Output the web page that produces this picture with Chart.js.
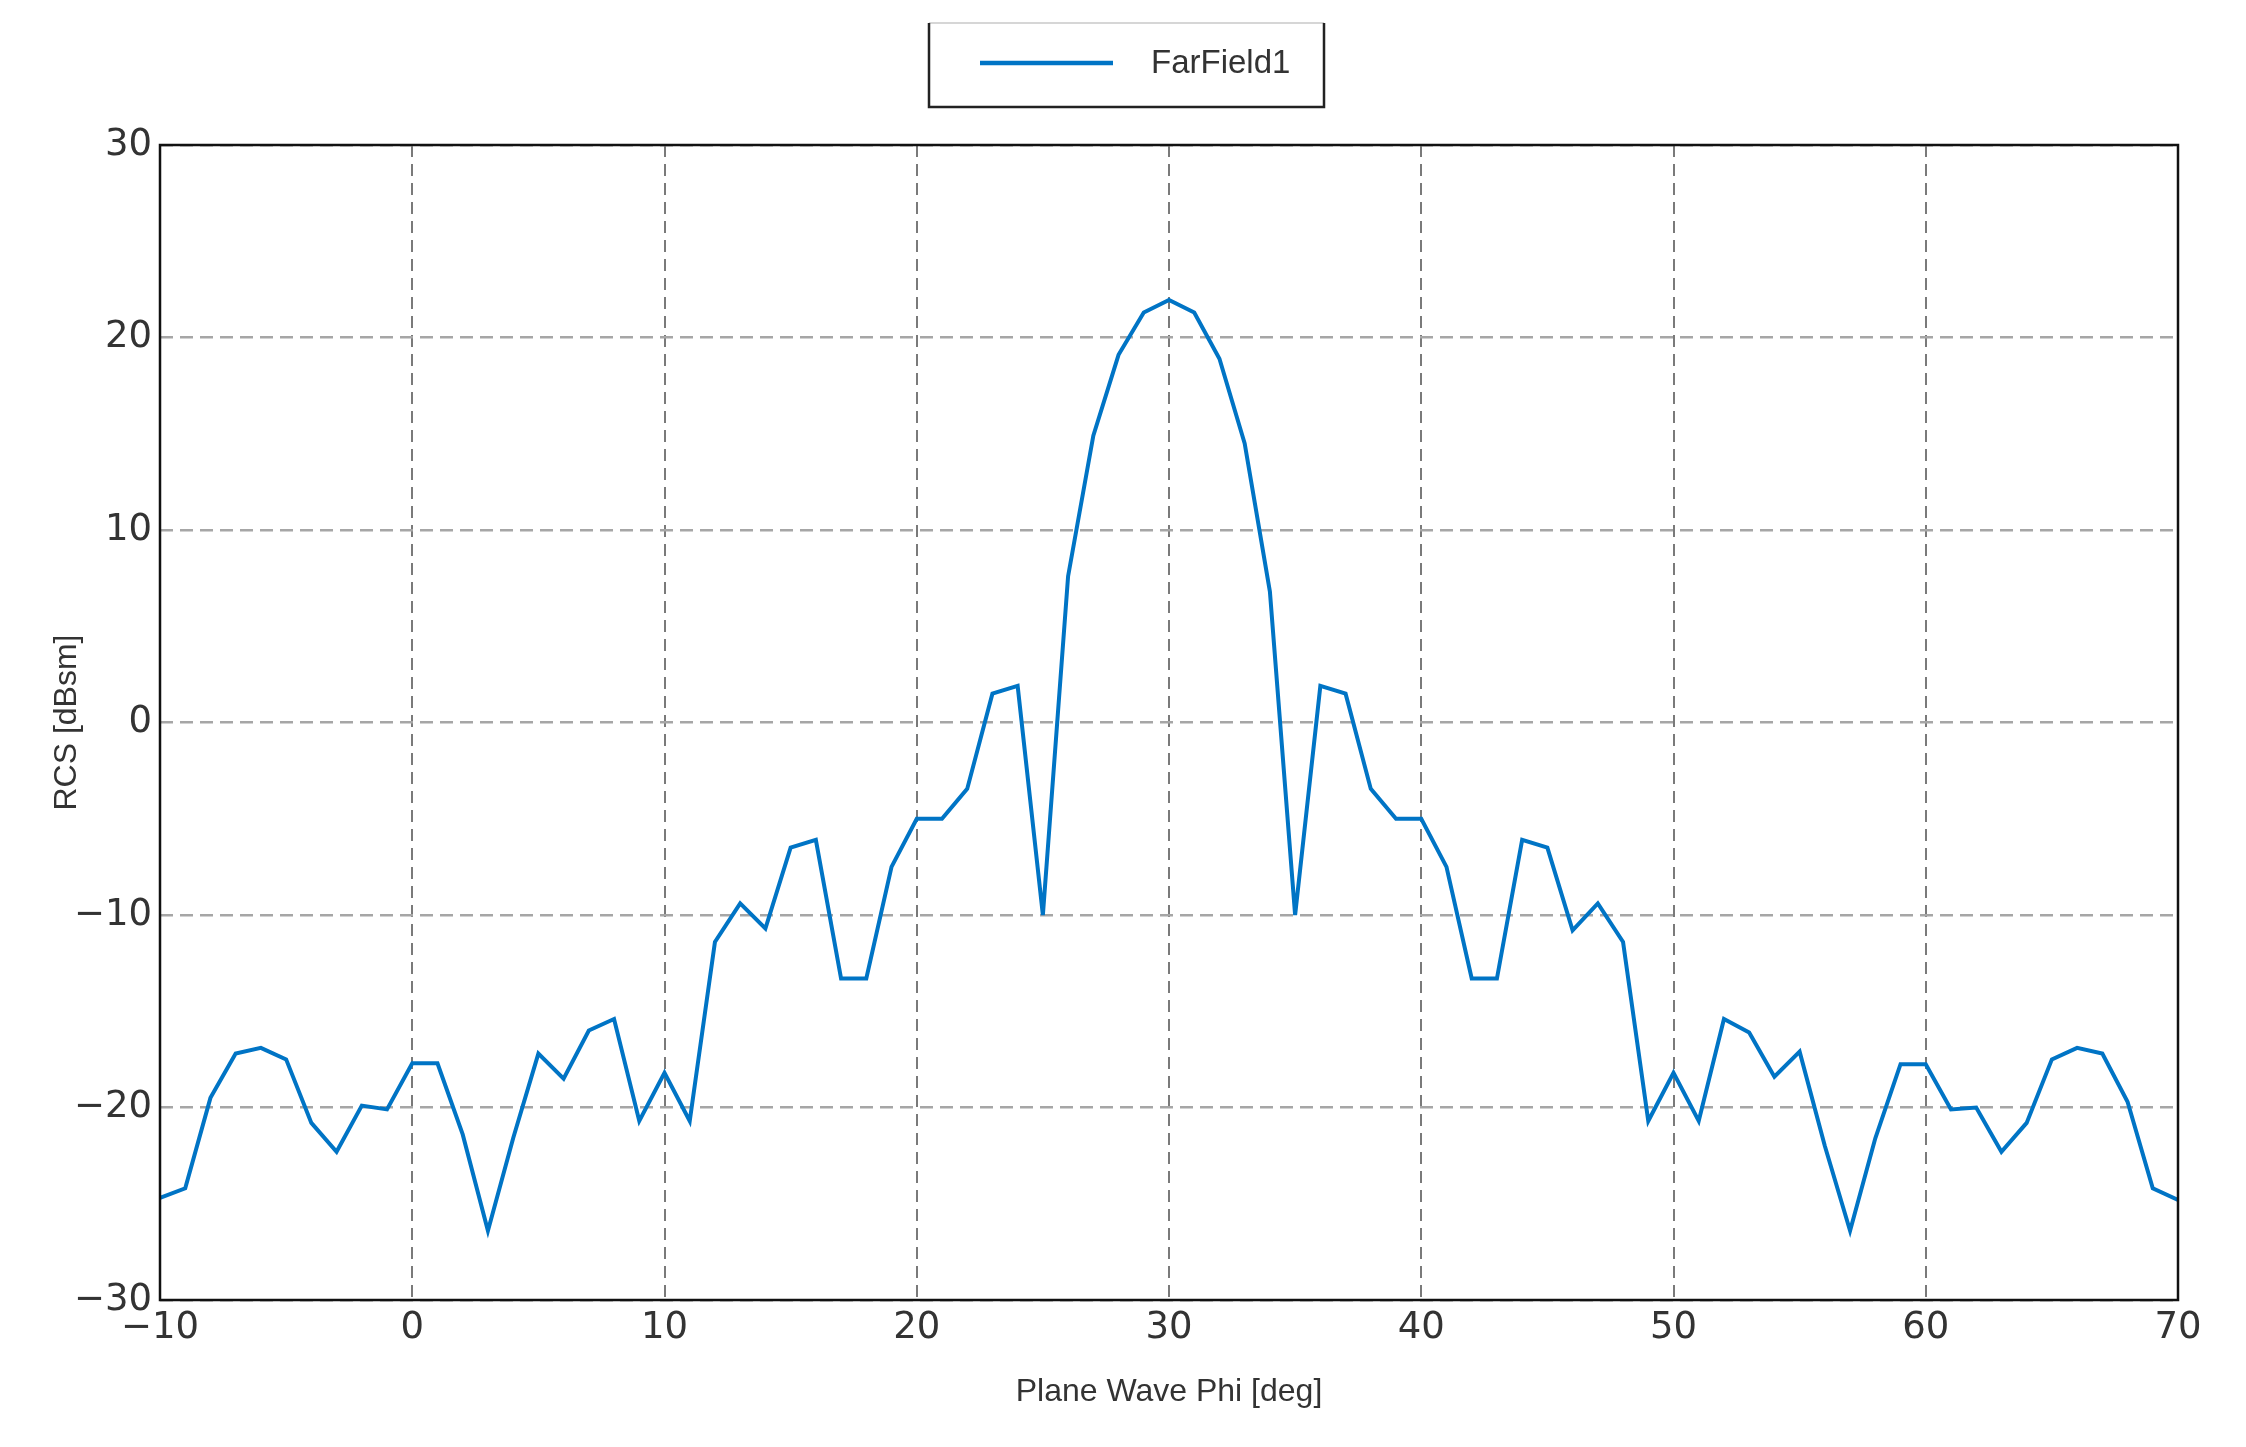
<!DOCTYPE html>
<html>
<head>
<meta charset="utf-8">
<title>RCS vs Plane Wave Phi</title>
<script src="https://cdn.jsdelivr.net/npm/chart.js@4.4.1/dist/chart.umd.min.js"></script>
<style>
    html, body { margin: 0; padding: 0; background: #fff; }
    #wrap { width: 2246px; height: 1447px; }
</style>
</head>
<body>
<div id="wrap">
    <canvas id="rcsChart" width="2246" height="1447"></canvas>
</div>
<script>
// Plane wave phi angle [deg]
const phiDeg = [
    -10, -9, -8, -7, -6, -5, -4, -3, -2, -1,
    0, 1, 2, 3, 4, 5, 6, 7, 8, 9,
    10, 11, 12, 13, 14, 15, 16, 17, 18, 19,
    20, 21, 22, 23, 24, 25, 26, 27, 28, 29,
    30, 31, 32, 33, 34, 35, 36, 37, 38, 39,
    40, 41, 42, 43, 44, 45, 46, 47, 48, 49,
    50, 51, 52, 53, 54, 55, 56, 57, 58, 59,
    60, 61, 62, 63, 64, 65, 66, 67, 68, 69,
    70
];

// FarField1 RCS [dBsm]
const farField1 = [
    -24.7, -24.2, -19.5, -17.2, -16.9, -17.5, -20.8, -22.3, -19.9, -20.1,
    -17.7, -17.7, -21.4, -26.4, -21.6, -17.2, -18.5, -16.0, -15.4, -20.7,
    -18.2, -20.7, -11.4, -9.4, -10.7, -6.5, -6.1, -13.3, -13.3, -7.5,
    -5.0, -5.0, -3.45, 1.5, 1.9, -10.0, 7.6, 14.9, 19.1, 21.3,
    21.95, 21.3, 18.9, 14.5, 6.8, -10.0, 1.9, 1.5, -3.45, -5.0,
    -5.0, -7.5, -13.3, -13.3, -6.1, -6.5, -10.8, -9.4, -11.4, -20.7,
    -18.2, -20.7, -15.4, -16.1, -18.4, -17.1, -22.0, -26.4, -21.6, -17.75,
    -17.75, -20.1, -20.0, -22.3, -20.8, -17.5, -16.9, -17.2, -19.7, -24.2,
    -24.8
];

const xTicks = [-10, 0, 10, 20, 30, 40, 50, 60, 70];
const yTicks = [-30, -20, -10, 0, 10, 20, 30];

const lineColor = "#0074c5";
const textColor = "#333333";

function fmtTick(v) {
    return v < 0 ? "\u2212" + Math.abs(v) : String(v);
}

// black frame round the plot area
const framePlugin = {
    id: "frame",
    afterDatasetsDraw(chart) {
        const { ctx, chartArea: a } = chart;
        ctx.save();
        ctx.strokeStyle = "#111";
        ctx.lineWidth = 2.5;
        ctx.strokeRect(a.left, a.top, a.right - a.left, a.bottom - a.top);
        ctx.restore();
    }
};

// boxed legend like the original tool draws it
const boxLegendPlugin = {
    id: "boxLegend",
    afterDraw(chart) {
        const ctx = chart.ctx;
        const ds = chart.data.datasets[0];
        const x0 = 929, y0 = 23, x1 = 1324, y1 = 107;
        ctx.save();
        ctx.fillStyle = "#fff";
        ctx.fillRect(x0, y0, x1 - x0, y1 - y0);
        ctx.strokeStyle = "#c8c8c8";
        ctx.lineWidth = 1.5;
        ctx.beginPath();
        ctx.moveTo(x0, y0);
        ctx.lineTo(x1, y0);
        ctx.stroke();
        ctx.strokeStyle = "#222";
        ctx.lineWidth = 2.5;
        ctx.beginPath();
        ctx.moveTo(x0, y0);
        ctx.lineTo(x0, y1);
        ctx.lineTo(x1, y1);
        ctx.lineTo(x1, y0);
        ctx.stroke();

        ctx.strokeStyle = ds.borderColor;
        ctx.lineWidth = 4.5;
        ctx.beginPath();
        ctx.moveTo(980, 63);
        ctx.lineTo(1113, 63);
        ctx.stroke();

        ctx.fillStyle = textColor;
        ctx.font = "33px 'Liberation Sans', Arial, sans-serif";
        ctx.textBaseline = "middle";
        ctx.textAlign = "left";
        ctx.fillText(ds.label, 1151, 64);
        ctx.restore();
    }
};

new Chart(document.getElementById("rcsChart"), {
    type: "line",
    data: {
        datasets: [{
            label: "FarField1",
            data: phiDeg.map((p, i) => ({ x: p, y: farField1[i] })),
            borderColor: lineColor,
            backgroundColor: lineColor,
            borderWidth: 4,
            pointRadius: 0,
            tension: 0,
            fill: false
        }]
    },
    options: {
        responsive: false,
        animation: false,
        layout: {
            padding: { top: 145, right: 68, left: 0, bottom: 0 }
        },
        plugins: {
            legend: { display: false },
            tooltip: { enabled: false }
        },
        scales: {
            x: {
                type: "linear",
                min: -10,
                max: 70,
                afterBuildTicks: scale => {
                    scale.ticks = xTicks.map(v => ({ value: v }));
                },
                afterFit: scale => { scale.height = 147; },
                // in v4 border.dash is what dashes the grid lines
                border: { display: false, dash: [12, 7] },
                grid: {
                    color: "#7a7a7a",
                    lineWidth: 2,
                    drawTicks: false
                },
                ticks: {
                    padding: 6,
                    maxRotation: 0,
                    color: textColor,
                    font: { family: "'DejaVu Sans', sans-serif", size: 37 },
                    callback: v => fmtTick(v)
                },
                title: {
                    display: true,
                    text: "Plane Wave Phi [deg]",
                    color: textColor,
                    font: { family: "'Liberation Sans', Arial, sans-serif", size: 32 },
                    padding: { top: 0, bottom: 36 }
                }
            },
            y: {
                type: "linear",
                min: -30,
                max: 30,
                afterBuildTicks: scale => {
                    scale.ticks = yTicks.map(v => ({ value: v }));
                },
                afterFit: scale => { scale.width = 160; },
                border: { display: false, dash: [13, 7] },
                grid: {
                    color: "#a6a6a6",
                    lineWidth: 2.5,
                    drawTicks: false
                },
                ticks: {
                    padding: 8,
                    color: textColor,
                    font: { family: "'DejaVu Sans', sans-serif", size: 37 },
                    callback: v => fmtTick(v)
                },
                title: {
                    display: true,
                    text: "RCS [dBsm]",
                    color: textColor,
                    font: { family: "'Liberation Sans', Arial, sans-serif", size: 32 },
                    padding: { top: 48, bottom: 0 }
                }
            }
        }
    },
    plugins: [framePlugin, boxLegendPlugin]
});
</script>
</body>
</html>
